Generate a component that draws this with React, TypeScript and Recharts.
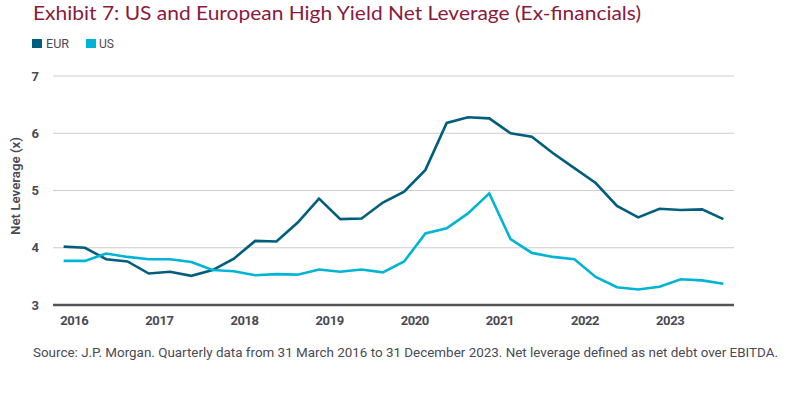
import React from 'react';
import { LineChart, Line, XAxis, YAxis, CartesianGrid } from 'recharts';

const quarters = [
  '2016Q1','2016Q2','2016Q3','2016Q4','2017Q1','2017Q2','2017Q3','2017Q4',
  '2018Q1','2018Q2','2018Q3','2018Q4','2019Q1','2019Q2','2019Q3','2019Q4',
  '2020Q1','2020Q2','2020Q3','2020Q4','2021Q1','2021Q2','2021Q3','2021Q4',
  '2022Q1','2022Q2','2022Q3','2022Q4','2023Q1','2023Q2','2023Q3','2023Q4',
];
const eur = [4.02,4.00,3.80,3.76,3.55,3.58,3.51,3.61,3.81,4.12,4.11,4.44,4.86,4.50,4.51,4.79,4.98,5.36,6.18,6.28,6.26,6.00,5.94,5.65,5.39,5.13,4.73,4.53,4.68,4.66,4.67,4.50];
const us = [3.77,3.77,3.90,3.84,3.80,3.80,3.75,3.61,3.59,3.52,3.54,3.53,3.62,3.58,3.62,3.57,3.76,4.25,4.34,4.60,4.95,4.15,3.91,3.84,3.80,3.49,3.31,3.27,3.32,3.45,3.43,3.37];
const years = ['2016','2017','2018','2019','2020','2021','2022','2023'];
const yTicks = [3, 4, 5, 6, 7];

const data = quarters.map((q, i) => ({ x: i, q, EUR: eur[i], US: us[i] }));
const xTicks = years.map((_, i) => i * 4 + 0.5);

const EUR_COLOR = '#005e7d';
const US_COLOR = '#00b4d5';
const TEXT = '#4a4a56';
const FONT = 'Roboto, "Noto Sans", sans-serif';

export default function App() {
  return (
    <div style={{ position: 'relative', width: 800, height: 395, background: '#fff', overflow: 'hidden' }}>
      <style>{`body{margin:0}`}</style>
      <div style={{ position: 'absolute', left: 0, top: 0 }}>
        <LineChart width={800} height={395} data={data} margin={{ top: 76, right: 66, bottom: 60, left: 0 }}>
          <CartesianGrid vertical={false} stroke="#cccccc" />
          <XAxis
            dataKey="x"
            type="number"
            domain={[-0.5, 31.5]}
            ticks={xTicks}
            tickFormatter={(v: number) => years[Math.round((v - 0.5) / 4)]}
            height={30}
            tickSize={0}
            tickMargin={11}
            axisLine={{ stroke: '#555555', strokeWidth: 2.5 }}
            tick={{ fill: TEXT, fontSize: 13, fontWeight: 700, fontFamily: FONT, letterSpacing: -0.4 }}
            interval={0}
          />
          <YAxis
            type="number"
            domain={[3, 7]}
            ticks={yTicks}
            width={53}
            tickSize={0}
            tickMargin={14}
            axisLine={false}
            tick={{ fill: TEXT, fontSize: 13, fontWeight: 700, fontFamily: FONT }}
          />
          <Line type="linear" dataKey="EUR" stroke={EUR_COLOR} strokeWidth={2.6} dot={false} isAnimationActive={false} />
          <Line type="linear" dataKey="US" stroke={US_COLOR} strokeWidth={2.6} dot={false} isAnimationActive={false} />
        </LineChart>
      </div>
      <svg width={800} height={395} style={{ position: 'absolute', left: 0, top: 0, pointerEvents: 'none' }}>
        <text x={33} y={20} fill="#8a1a3d" fontSize={18.5} fontFamily='Lato, "Open Sans", sans-serif' textLength={608} lengthAdjust="spacingAndGlyphs">
          Exhibit 7: US and European High Yield Net Leverage (Ex-financials)
        </text>
        <rect x={32} y={39} width={10} height={9} fill={EUR_COLOR} />
        <text x={46} y={48} fill={TEXT} fontSize={13} fontFamily={FONT} textLength={23} lengthAdjust="spacingAndGlyphs">EUR</text>
        <rect x={86} y={39} width={10} height={9} fill={US_COLOR} />
        <text x={99} y={48} fill={TEXT} fontSize={13} fontFamily={FONT} textLength={15} lengthAdjust="spacingAndGlyphs">US</text>
        <text
          x={0}
          y={0}
          transform="translate(20,186) rotate(-90)"
          textAnchor="middle"
          fill={TEXT}
          fontSize={12}
          fontWeight={600}
          fontFamily={FONT}
          textLength={98}
          lengthAdjust="spacingAndGlyphs"
        >
          Net Leverage (x)
        </text>
        <text x={33} y={357} fill={TEXT} fontSize={13} fontFamily={FONT} textLength={745} lengthAdjust="spacingAndGlyphs">
          Source: J.P. Morgan. Quarterly data from 31 March 2016 to 31 December 2023. Net leverage defined as net debt over EBITDA.
        </text>
      </svg>
    </div>
  );
}
